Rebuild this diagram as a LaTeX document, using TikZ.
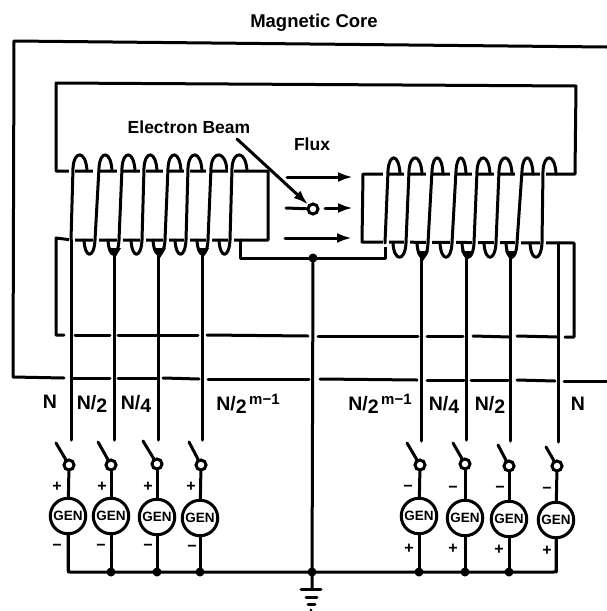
\documentclass[tikz,border=0pt]{standalone}
\usepackage{fontspec}
\setmainfont{Liberation Sans}
\usetikzlibrary{arrows.meta}
\newcommand{\numlab}[1]{N/\raisebox{-2.5pt}{#1}}
\newcommand{\powlab}{N/\raisebox{-2.5pt}{2}\raisebox{6pt}{\fontsize{15}{16}\selectfont\,m−1}}
\tikzset{
  wire/.style={line width=3pt,line cap=round,line join=round},
  halo/.style={line width=6.5pt,white},
  lab/.style={font=\fontsize{17.5}{20}\selectfont\bfseries,inner sep=0pt},
  nlab/.style={font=\fontsize{19.5}{22}\selectfont\bfseries,inner sep=0pt},
  sign/.style={font=\fontsize{16}{16}\selectfont\bfseries,inner sep=0pt},
  gen/.style={circle,draw,line width=3pt,minimum size=35.5pt,inner sep=0pt,fill=white,font=\fontsize{13.5}{14}\selectfont\bfseries},
  sw/.style={circle,draw,line width=3pt,minimum size=10pt,inner sep=0pt,fill=white},
  dot/.style={circle,fill,minimum size=9pt,inner sep=0pt},
  flux/.style={wire,-{Latex[length=15pt,width=10pt]}}
}
\begin{document}
\begin{tikzpicture}[x=1pt,y=-1pt]
\useasboundingbox[fill=white] (0,0) rectangle (607,611);
% outer core
\draw[wire] (607,47) -- (14,41) -- (13,377) -- (64,378);
\foreach \a/\b/\ya/\yb in {73/110/378/378,118/157/378/378,163/199/378/379,208/309/379/379,320/417/379/380,427/464/380/380,471/508/380/380,517/555/380/381,564/607/381/381}
  \draw[wire] (\a,\ya) -- (\b,\yb);
% inner core
\draw[wire] (70,171) -- (56,171) -- (56,83) -- (576,86) -- (575,174) -- (556,174);
\draw[wire] (72,171) -- (268,171) -- (268,240) -- (72,240) -- (56,238) -- (56,335) -- (64,335);
\draw[wire] (556,174) -- (363,174) -- (362,242) -- (574,243) -- (574,337) -- (565,337);
\draw[wire] (240,240) -- (240,258) -- (385,258) -- (385,240);
\foreach \a/\b/\ya/\yb in {75/110/335/335,118/198/335/335,207/308/335/336,318/418/336/336,427/463/336/336,473/510/336/337,517/558/336/337}
  \draw[wire] (\a,\ya) -- (\b,\yb);
% left coil
\foreach \xb/\xt/\xe/\xl [count=\i] in {71/73/87/0,95/99/112/84,119/122/135/108,142/144/157/131,165/168/181/153,186/188/202/175,208/211/227/197,230/232/247/219}{
  \draw[halo] (\xb+1,165) -- (\xb+1,244);
  \ifnum\i>1
    \draw[wire] (\xl,240) .. controls (\xl+1,259) and (\xb-1,259) .. (\xb,240);
  \fi
  \draw[wire] (\xb,240) -- (\xt,168) .. controls (\xt+1,150) and (\xe-1,150) .. (\xe,171);
}
% right coil
\foreach \xb/\xt/\xe/\xl [count=\i] in {385/388/400/0,406/409/422/393,428/432/443/417,452/456/466/440,474/477/490/462,496/499/512/484,517/522/533/506,542/543/556/530}{
  \draw[halo] (\xb+1,168) -- (\xb+1,247);
  \ifnum\i>1
    \draw[wire] (\xl,243) .. controls (\xl+1,262) and (\xb-1,262) .. (\xb,243);
  \fi
  \draw[wire] (\xb,243) -- (\xt,171) .. controls (\xt+1,153) and (\xe-1,153) .. (\xe,174);
}
% tapped wedges
\foreach \c/\y in {115/248,160/248,203/248,423/251,467/251,511/251}
  \fill (\c-6,\y) -- (\c+6,\y) -- (\c,\y+10) -- cycle;
% generators, switches and leads
\foreach \nm/\gx/\gy/\sx/\sy/\wx/\wt/\lx/\ly/\ey in {
 a/68/516/69/465/71/240/56/443/440,
 b/111/516/111/465/114/255/98/442/440,
 c/157/517/157/464/158/255/143/441/440,
 d/200/518/201/465/202/255/189/442/440,
 e/419/516/420/465/421/257/407/443/441,
 f/465/518/465/464/466/257/453/443/440,
 g/509/519/509/466/510/257/498/445/441,
 h/556/520/557/466/558/243/546/447/442}{
  \node[gen] (gen\nm) at (\gx,\gy) {GEN};
  \node[sw] (sw\nm) at (\sx,\sy) {};
  \coordinate (lev\nm) at (\lx,\ly);
  \coordinate (top\nm) at (\wx,\wt);
  \coordinate (end\nm) at (\wx,\ey);
  \coordinate (bus\nm) at (\gx,572);
  \draw[wire] (top\nm) -- (end\nm);
  \draw[wire] (lev\nm) -- (sw\nm);
  \draw[wire] (sw\nm) -- (gen\nm);
  \draw[wire] (gen\nm) -- (bus\nm);
}
% bus
\draw[wire,rounded corners=2pt] (gena.south) -- (busa) -- (bush) -- (genh.south);
\foreach \n in {b,c,d,e,f,g} \node[dot] at (bus\n) {};
% ground
\node[dot] (jt) at (313,258) {};
\node[dot] (jb) at (312,572) {};
\coordinate (gnd) at (312,589);
\draw[wire] (jt) -- (gnd);
\draw[wire] (301,589) -- (321,589);
\draw[wire] (306,597) -- (317,597);
\draw[wire] (308,604) -- (315,604);
\fill (311,610) circle (1.5);
% flux
\draw[flux] (287,177) -- (353,177);
\draw[flux] (285,238) -- (352,238);
\node[sw] (beam) at (313,209) {};
\draw[wire] (286,208) -- (beam);
\coordinate (fm) at (353,208);
\draw[flux] (325,208) -- (fm);
\coordinate (bs) at (237,139);
\draw[wire,-{Latex[length=15pt,width=10pt]}] (bs) -- (beam);
% labels
\node[lab,font=\fontsize{18.5}{20}\selectfont\bfseries] (lm) at (314,23) {Magnetic Core};
\node[lab] (le) at (189,127) {Electron Beam};
\node[lab] (lf) at (312,144) {Flux};
\node[nlab] (n1) at (50,402) {N};
\node[nlab] (n2) at (92,404) {\numlab{2}};
\node[nlab] (n3) at (136,404) {\numlab{4}};
\node[nlab] (n4) at (248,404) {\powlab};
\node[nlab] (n5) at (380,404) {\powlab};
\node[nlab] (n6) at (444,405) {\numlab{4}};
\node[nlab] (n7) at (490,405) {\numlab{2}};
\node[nlab] (n8) at (578,404) {N};
% signs
\foreach \x/\y [count=\i] in {57/487,102/487,148/487,191/487,409/549,453/549,499/550,547/551}
  \node[sign] (p\i) at (\x,\y) {+};
\foreach \x/\y [count=\i] in {57/547,101/547,148/547,192/548,408/488,453/489,500/489,547/490}
  \node[sign] (m\i) at (\x,\y) {−};
\end{tikzpicture}
\end{document}
